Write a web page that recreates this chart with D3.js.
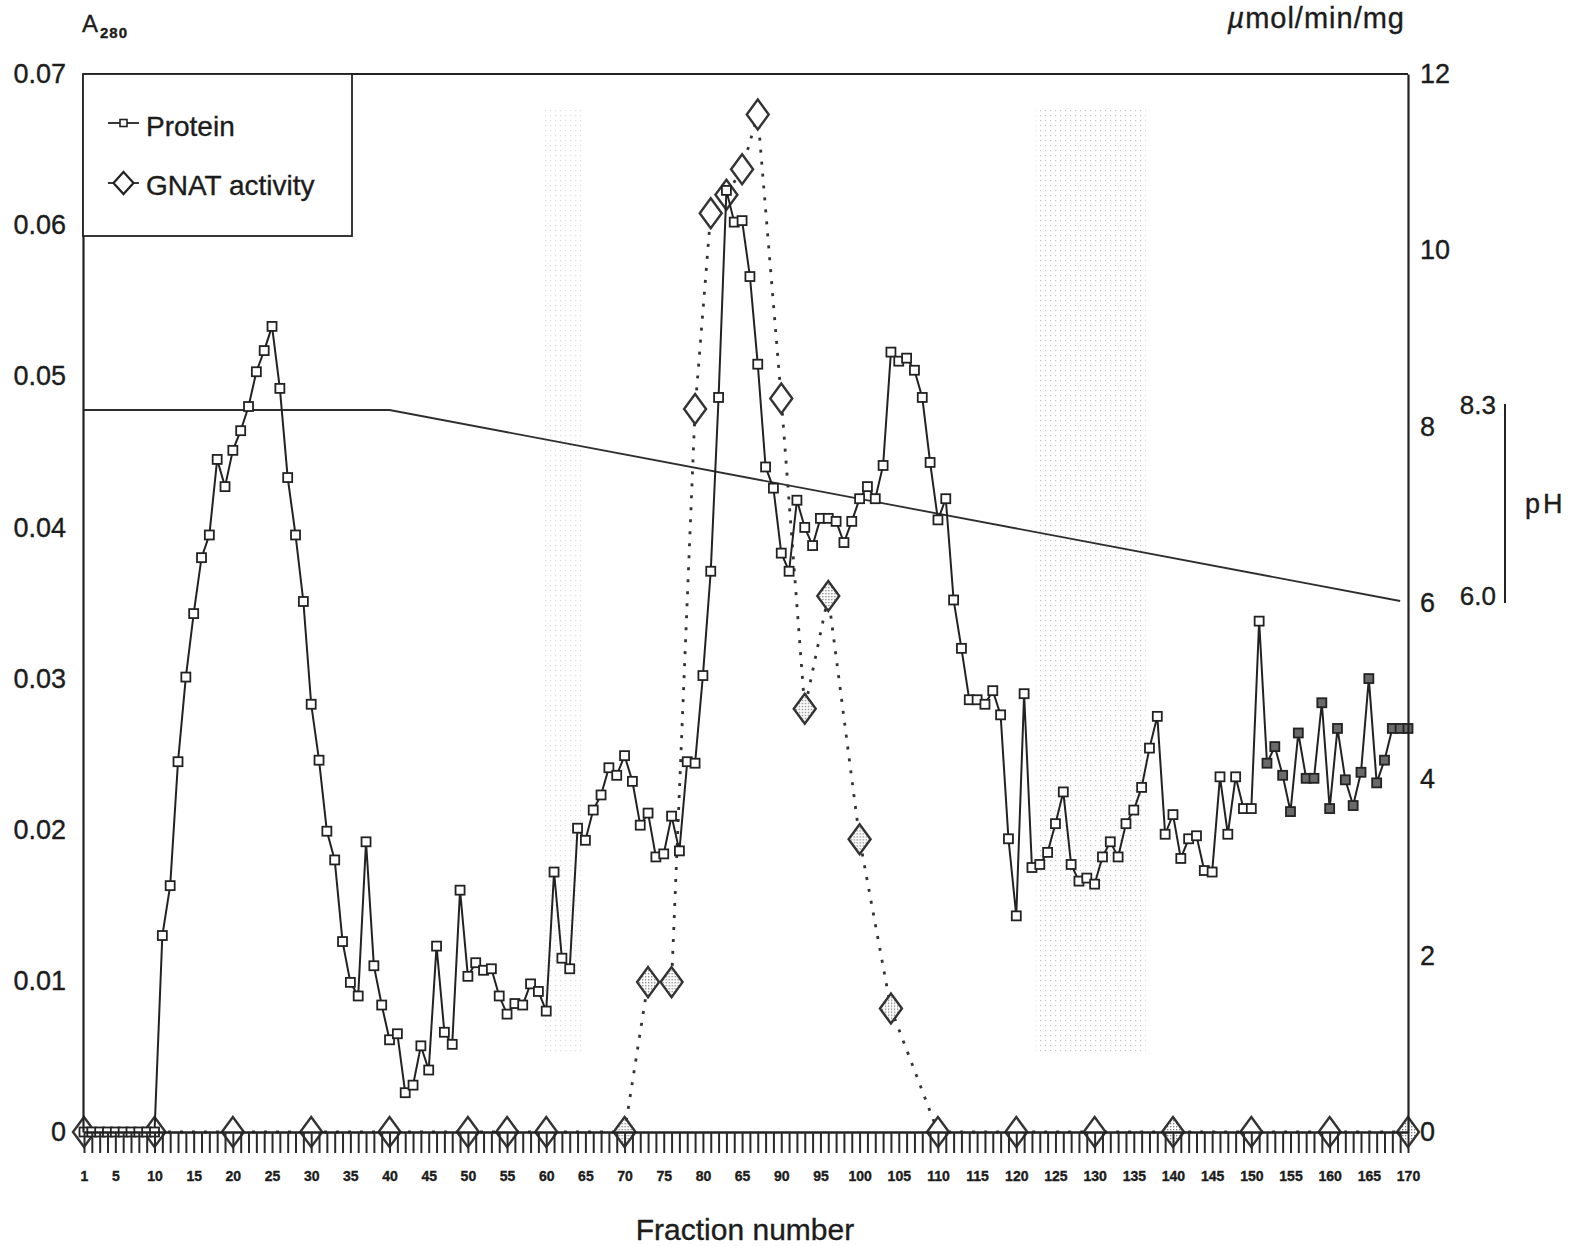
<!DOCTYPE html>
<html>
<head>
<meta charset="utf-8">
<script src="https://cdn.jsdelivr.net/npm/d3@7"></script>
<style>
  html, body { margin: 0; padding: 0; background: #fff; }
  svg { display: block; font-family: "Liberation Sans", Arial, Helvetica, sans-serif; }
  svg text { stroke: #1c1c1c; stroke-width: 0.35px; }
</style>
</head>
<body>
<svg id="chart" width="1587" height="1246"></svg>
<script>
// ---- data -------------------------------------------------------------
// fraction numbers 1..170 (x categories)
const fractionNumbers = d3.range(1, 171);

// protein absorbance (A280) for fractions 1..170
const proteinA280 = [
  0, 0, 0, 0, 0, 0, 0, 0, 0, 0,
  0.0130, 0.0163, 0.0245, 0.0301, 0.0343, 0.0380, 0.0395, 0.0445, 0.0427, 0.0451,
  0.0464, 0.0480, 0.0503, 0.0517, 0.0533, 0.0492, 0.0433, 0.0395, 0.0351, 0.0283,
  0.0246, 0.0199, 0.0180, 0.0126, 0.0099, 0.0090, 0.0192, 0.0110, 0.0084, 0.0061,
  0.0065, 0.0026, 0.0031, 0.0057, 0.0041, 0.0123, 0.0066, 0.0058, 0.0160, 0.0103,
  0.0112, 0.0107, 0.0108, 0.0090, 0.0078, 0.0085, 0.0084, 0.0098, 0.0093, 0.0080,
  0.0172, 0.0115, 0.0108, 0.0201, 0.0193, 0.0213, 0.0223, 0.0241, 0.0236, 0.0249,
  0.0232, 0.0203, 0.0211, 0.0182, 0.0184, 0.0209, 0.0186, 0.0245, 0.0244, 0.0302,
  0.0371, 0.0486, 0.0623, 0.0602, 0.0603, 0.0566, 0.0508, 0.0440, 0.0426, 0.0383,
  0.0371, 0.0418, 0.0400, 0.0388, 0.0406, 0.0406, 0.0404, 0.0390, 0.0404, 0.0419,
  0.0427, 0.0419, 0.0441, 0.0516, 0.0510, 0.0512, 0.0504, 0.0486, 0.0443, 0.0405,
  0.0419, 0.0352, 0.0320, 0.0286, 0.0286, 0.0283, 0.0292, 0.0276, 0.0194, 0.0143,
  0.0290, 0.0175, 0.0177, 0.0185, 0.0204, 0.0225, 0.0177, 0.0166, 0.0168, 0.0164,
  0.0182, 0.0192, 0.0182, 0.0204, 0.0213, 0.0228, 0.0254, 0.0275, 0.0197, 0.0210,
  0.0181, 0.0194, 0.0196, 0.0173, 0.0172, 0.0235, 0.0197, 0.0235, 0.0214, 0.0214,
  0.0338, 0.0244, 0.0255, 0.0236, 0.0212, 0.0264, 0.0234, 0.0234, 0.0284, 0.0214,
  0.0267, 0.0233, 0.0216, 0.0238, 0.0300, 0.0231, 0.0246, 0.0267, 0.0267, 0.0267
];

// GNAT activity (µmol/min/mg), assayed fractions only
const gnatFractions = [1, 10, 20, 30, 40, 50, 55, 60, 70, 73, 76, 79, 81, 83, 85, 87,
  90, 93, 96, 100, 104, 110, 120, 130, 140, 150, 160, 170];
const gnatActivity = [0, 0, 0, 0, 0, 0, 0, 0, 0, 1.70, 1.70, 8.20, 10.42, 10.63, 10.92, 11.54,
  8.32, 4.80, 6.08, 3.32, 1.40, 0, 0, 0, 0, 0, 0, 0];

// pH gradient
const phFractions = [1, 40, 169];
const phValues = [8.3, 8.3, 6.0];
const phBarValues = [8.3, 6.0];
const phBarLabels = ["8.3", "6.0"];

// axis ticks
const xLabelFractions = [1, 5, 10, 15, 20, 25, 30, 35, 40, 45, 50, 55, 60, 65, 70, 75, 80, 85,
  90, 95, 100, 105, 110, 115, 120, 125, 130, 135, 140, 145, 150, 155, 160, 165, 170];
const xLabelTexts = ["1", "5", "10", "15", "20", "25", "30", "35", "40", "45", "50", "55", "60",
  "65", "70", "75", "80", "65", "90", "95", "100", "105", "110", "115", "120", "125", "130",
  "135", "140", "145", "150", "155", "160", "165", "170"];
const leftTickValues = [0, 0.01, 0.02, 0.03, 0.04, 0.05, 0.06, 0.07];
const leftTickLabels = ["0", "0.01", "0.02", "0.03", "0.04", "0.05", "0.06", "0.07"];
const rightTickValues = [0, 2, 4, 6, 8, 10, 12];
const rightTickLabels = ["0", "2", "4", "6", "8", "10", "12"];

// diamonds printed with a dotted fill
const stippledDiamonds = [70, 73, 76, 93, 96, 100, 104, 140, 170];
// light halftone bands behind the plot (fraction ranges, strength)
const shadedBands = [[59.5, 64.5, 0.45], [122.5, 136.5, 0.8]];

// ---- layout -----------------------------------------------------------
const svg = d3.select("#chart");
const ink = "#222";
const axisLeftX = 83, axisRightX = 1408, plotTop = 74, plotBottom = 1132;

const x = d3.scaleLinear().domain([1, 170]).range([84, 1408]);
const yL = d3.scaleLinear().domain([0, 0.07]).range([plotBottom, plotTop]);
const yR = d3.scaleLinear().domain([0, 12]).range([plotBottom, plotTop]);
const yPH = d3.scaleLinear().domain([6.0, 8.3]).range([601, 410]);

// patterns
const defs = svg.append("defs");
const stip = defs.append("pattern").attr("id", "stipple")
  .attr("width", 3).attr("height", 3).attr("patternUnits", "userSpaceOnUse");
stip.append("rect").attr("width", 3).attr("height", 3).attr("fill", "#fff");
stip.append("rect").attr("width", 1.3).attr("height", 1.3).attr("fill", "#7a7a7a");
const half = defs.append("pattern").attr("id", "halftone")
  .attr("width", 5).attr("height", 5).attr("patternUnits", "userSpaceOnUse");
half.append("rect").attr("width", 1.2).attr("height", 1.2).attr("fill", "#b4b4b4");

// halftone bands
svg.append("g").selectAll("rect").data(shadedBands).join("rect")
  .attr("x", d => x(d[0]))
  .attr("width", d => x(d[1]) - x(d[0]))
  .attr("y", yR(11.6))
  .attr("height", yR(0.9) - yR(11.6))
  .attr("fill", "url(#halftone)")
  .attr("opacity", d => d[2]);

// pH gradient line
const phPts = phFractions.map((f, i) => [f, phValues[i]]);
svg.append("path")
  .attr("d", d3.line().x(d => x(d[0])).y(d => yPH(d[1]))(phPts))
  .attr("fill", "none").attr("stroke", "#2e2e2e").attr("stroke-width", 1.8);

// GNAT activity dotted line
const gnatPts = gnatFractions.map((f, i) => [f, gnatActivity[i]]);
svg.append("path")
  .attr("d", d3.line().x(d => x(d[0])).y(d => yR(d[1]))(gnatPts))
  .attr("fill", "none").attr("stroke", "#333").attr("stroke-width", 2.8)
  .attr("stroke-dasharray", "3 9");

// GNAT diamonds
const diamond = "M0,-15L11,0L0,15L-11,0Z";
svg.append("g").selectAll("path").data(gnatPts).join("path")
  .attr("d", diamond)
  .attr("transform", d => `translate(${x(d[0])},${yR(d[1])})`)
  .attr("fill", d => stippledDiamonds.includes(d[0]) ? "url(#stipple)" : "#fff")
  .attr("stroke", "#333").attr("stroke-width", 2.4);

// protein line and square markers
const protPts = fractionNumbers.map((f, i) => [f, proteinA280[i]]);
svg.append("path")
  .attr("d", d3.line().x(d => x(d[0])).y(d => yL(d[1]))(protPts))
  .attr("fill", "none").attr("stroke", ink).attr("stroke-width", 2);
svg.append("g").selectAll("rect").data(protPts).join("rect")
  .attr("x", d => x(d[0]) - 4.5).attr("y", d => yL(d[1]) - 4.5)
  .attr("width", 9).attr("height", 9)
  .attr("fill", d => d[0] >= 152 ? "#6a6a6a" : "#fff")
  .attr("stroke", ink).attr("stroke-width", 1.8);

// ---- axes -------------------------------------------------------------
const textColor = "#1c1c1c";

const gL = svg.append("g").attr("transform", `translate(${axisLeftX},0)`)
  .call(d3.axisLeft(yL).tickValues(leftTickValues)
    .tickFormat((d, i) => leftTickLabels[i]).tickSize(0).tickSizeOuter(0).tickPadding(17));
gL.select(".domain").attr("stroke", ink).attr("stroke-width", 2.2);
gL.selectAll("text").attr("font-size", 27).attr("fill", textColor)
  .attr("font-family", "Liberation Sans, Arial, sans-serif");

const gR = svg.append("g").attr("transform", `translate(${axisRightX},0)`)
  .call(d3.axisRight(yR).tickValues(rightTickValues)
    .tickFormat((d, i) => rightTickLabels[i]).tickSize(0).tickSizeOuter(0).tickPadding(12));
gR.select(".domain").attr("stroke", ink).attr("stroke-width", 2.2);
gR.selectAll("text").attr("font-size", 27).attr("fill", textColor)
  .attr("font-family", "Liberation Sans, Arial, sans-serif");

// top frame line
svg.append("line")
  .attr("x1", axisLeftX).attr("x2", axisRightX)
  .attr("y1", yL(0.07)).attr("y2", yL(0.07))
  .attr("stroke", ink).attr("stroke-width", 1.8);

// fraction axis with a tick on every fraction
const gB = svg.append("g").attr("transform", `translate(0,${plotBottom})`)
  .call(d3.axisBottom(x).tickValues(fractionNumbers).tickSize(21).tickSizeOuter(0).tickPadding(18)
    .tickFormat(d => { const k = xLabelFractions.indexOf(d); return k >= 0 ? xLabelTexts[k] : ""; }));
gB.select(".domain").attr("stroke", ink).attr("stroke-width", 2.4);
gB.selectAll(".tick line").attr("stroke", "#2a2a2a").attr("stroke-width", 2);
gB.selectAll("text").attr("font-size", 14).attr("font-weight", "bold").attr("fill", textColor)
  .attr("font-family", "Liberation Sans, Arial, sans-serif");

// axis titles
const tA = svg.append("text").attr("x", 82).attr("y", 32).attr("fill", textColor);
tA.append("tspan").attr("font-size", 24).text("A");
tA.append("tspan").attr("font-size", 15).attr("font-weight", "bold").attr("dy", 6)
  .attr("dx", 2).attr("letter-spacing", 1).text("280");

const tU = svg.append("text").attr("x", 1405).attr("y", 28).attr("text-anchor", "end")
  .attr("font-size", 29).attr("letter-spacing", 1).attr("fill", textColor);
tU.append("tspan").attr("font-style", "italic").text("µ");
tU.append("tspan").text("mol/min/mg");

svg.append("text").attr("x", 745).attr("y", 1240).attr("text-anchor", "middle")
  .attr("font-size", 30).attr("fill", textColor).text("Fraction number");

// pH scale bar
svg.append("line").attr("x1", 1505).attr("x2", 1505)
  .attr("y1", yPH(phBarValues[0]) - 6).attr("y2", yPH(phBarValues[1]) + 2)
  .attr("stroke", ink).attr("stroke-width", 2);
svg.append("g").selectAll("text").data(phBarValues).join("text")
  .attr("x", 1496).attr("y", d => yPH(d) - 5).attr("dy", "0.35em")
  .attr("text-anchor", "end").attr("font-size", 26).attr("fill", textColor)
  .text((d, i) => phBarLabels[i]);
svg.append("text").attr("x", 1525).attr("y", 504).attr("dy", "0.35em")
  .attr("font-size", 27).attr("letter-spacing", 3).attr("fill", textColor).text("pH");

// ---- legend -----------------------------------------------------------
const leg = svg.append("g");
leg.append("rect").attr("x", axisLeftX).attr("y", plotTop)
  .attr("width", 352 - axisLeftX).attr("height", 236 - plotTop)
  .attr("fill", "#fff").attr("stroke", ink).attr("stroke-width", 1.8);
leg.append("line").attr("x1", 108).attr("x2", 139).attr("y1", 123).attr("y2", 123)
  .attr("stroke", ink).attr("stroke-width", 1.8);
leg.append("rect").attr("x", 120).attr("y", 119.5).attr("width", 7).attr("height", 7)
  .attr("fill", "#fff").attr("stroke", ink).attr("stroke-width", 1.6);
leg.append("text").attr("x", 146).attr("y", 136).attr("font-size", 28)
  .attr("fill", textColor).text("Protein");
leg.append("line").attr("x1", 108).attr("x2", 139).attr("y1", 183).attr("y2", 183)
  .attr("stroke", ink).attr("stroke-width", 1.8);
leg.append("path").attr("d", "M0,-11L10,0L0,11L-10,0Z")
  .attr("transform", "translate(123.5,183)")
  .attr("fill", "#fff").attr("stroke", ink).attr("stroke-width", 2.2);
leg.append("text").attr("x", 146).attr("y", 195).attr("font-size", 28)
  .attr("fill", textColor).text("GNAT activity");
</script>
</body>
</html>
